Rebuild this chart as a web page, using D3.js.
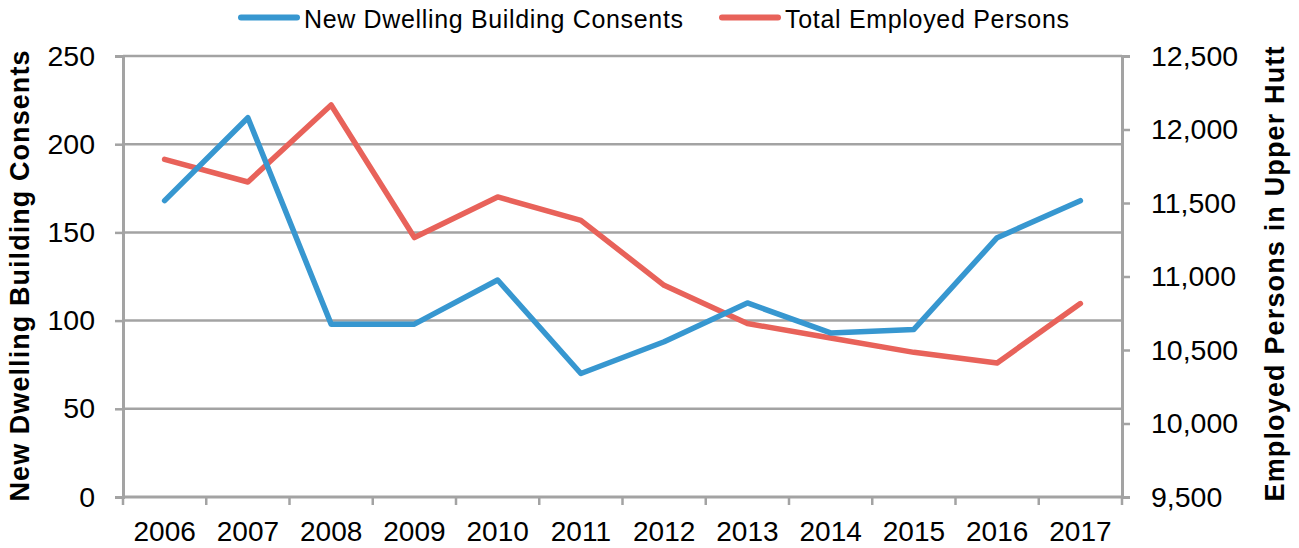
<!DOCTYPE html>
<html>
<head>
<meta charset="utf-8">
<script src="https://cdn.jsdelivr.net/npm/d3@7"></script>
<style>
  body { margin: 0; background: #fff; }
  svg { display: block; font-family: "Liberation Sans", Arial, sans-serif; }
</style>
</head>
<body>
<svg id="chart" width="1299" height="548"></svg>
<script>
const years = ["2006","2007","2008","2009","2010","2011","2012","2013","2014","2015","2016","2017"];
const consents = [168, 215, 98, 98, 123, 70, 88, 110, 93, 95, 147, 168];
const employed = [11797, 11643, 12167, 11265, 11541, 11382, 10940, 10680, 10582, 10484, 10412, 10816];
const leftTicks = [0, 50, 100, 150, 200, 250];
const rightTicks = [9500, 10000, 10500, 11000, 11500, 12000, 12500];
const seriesNames = ["New Dwelling Building Consents", "Total Employed Persons"];
const leftTitle = "New Dwelling Building Consents";
const rightTitle = "Employed Persons in Upper Hutt";

const colors = ["#3797D0", "#E8625A"];
const grid = "#A3A3A3";
const tickFont = 28.5;
const FF = "Liberation Sans, Arial, sans-serif";

const svg = d3.select("#chart");
const m = { left: 123, right: 1122, top: 56, bottom: 497 };

const x = d3.scaleBand().domain(years).range([m.left, m.right]).padding(0);
const yL = d3.scaleLinear().domain([0, 250]).range([m.bottom, m.top]);
const yR = d3.scaleLinear().domain([9500, 12500]).range([m.bottom, m.top]);

// gridlines
svg.append("g").selectAll("line").data(leftTicks.filter(d => d > 0)).join("line")
  .attr("x1", m.left).attr("x2", m.right)
  .attr("y1", d => yL(d)).attr("y2", d => yL(d))
  .attr("stroke", grid).attr("stroke-width", 2.5);

// left axis
const gL = svg.append("g").attr("transform", `translate(${m.left},0)`)
  .call(d3.axisLeft(yL).tickValues(leftTicks).tickSize(8).tickPadding(20).tickFormat(d3.format("d")));
gL.select(".domain").attr("stroke", grid).attr("stroke-width", 3);
gL.selectAll(".tick line").attr("stroke", grid).attr("stroke-width", 2.5);
gL.selectAll(".tick text").attr("font-size", tickFont).attr("fill", "#000").attr("font-family", FF);

// right axis
const gR = svg.append("g").attr("transform", `translate(${m.right},0)`)
  .call(d3.axisRight(yR).tickValues(rightTicks).tickSize(8).tickPadding(21).tickFormat(d3.format(",")));
gR.select(".domain").attr("stroke", grid).attr("stroke-width", 3);
gR.selectAll(".tick line").attr("stroke", grid).attr("stroke-width", 2.5);
gR.selectAll(".tick text").attr("font-size", tickFont).attr("fill", "#000").attr("font-family", FF);

// bottom axis line
svg.append("line").attr("x1", m.left).attr("x2", m.right)
  .attr("y1", m.bottom).attr("y2", m.bottom)
  .attr("stroke", grid).attr("stroke-width", 3);
// category boundary ticks
const bounds = years.map(d => x(d)).concat([x(years[years.length - 1]) + x.bandwidth()]);
svg.append("g").selectAll("line").data(bounds).join("line")
  .attr("x1", d => d).attr("x2", d => d)
  .attr("y1", m.bottom).attr("y2", m.bottom + 8)
  .attr("stroke", grid).attr("stroke-width", 2.5);
// category labels
const gB = svg.append("g").attr("transform", `translate(0,${m.bottom})`)
  .call(d3.axisBottom(x).tickSize(0).tickPadding(24));
gB.select(".domain").remove();
gB.selectAll(".tick text").attr("font-size", 28).attr("fill", "#000").attr("font-family", FF);

// lines
const cx = d => x(d) + x.bandwidth() / 2;
const lineL = d3.line().x((d, i) => cx(years[i])).y(d => yL(d));
const lineR = d3.line().x((d, i) => cx(years[i])).y(d => yR(d));
svg.append("path").datum(employed).attr("d", lineR)
  .attr("fill", "none").attr("stroke", colors[1]).attr("stroke-width", 5.5)
  .attr("stroke-linejoin", "round").attr("stroke-linecap", "round");
svg.append("path").datum(consents).attr("d", lineL)
  .attr("fill", "none").attr("stroke", colors[0]).attr("stroke-width", 5.5)
  .attr("stroke-linejoin", "round").attr("stroke-linecap", "round");

// axis titles
svg.append("text").attr("transform", `translate(29,276) rotate(-90)`)
  .attr("text-anchor", "middle").attr("font-size", 27).attr("font-weight", "bold")
  .attr("textLength", 451).attr("lengthAdjust", "spacing")
  .text(leftTitle);
svg.append("text").attr("transform", `translate(1284,274) rotate(-90)`)
  .attr("text-anchor", "middle").attr("font-size", 27).attr("font-weight", "bold")
  .attr("textLength", 455).attr("lengthAdjust", "spacing")
  .text(rightTitle);

// legend
const legendX = [238, 719];
const legendLen = [379, 284];
const lg = svg.append("g");
seriesNames.forEach((name, i) => {
  lg.append("line").attr("x1", legendX[i] + 3).attr("x2", legendX[i] + 59)
    .attr("y1", 17.5).attr("y2", 17.5)
    .attr("stroke", colors[i]).attr("stroke-width", 6).attr("stroke-linecap", "round");
  lg.append("text").attr("x", legendX[i] + 66).attr("y", 27.5)
    .attr("font-size", 25).attr("fill", "#000")
    .attr("textLength", legendLen[i]).attr("lengthAdjust", "spacing")
    .text(name);
});
</script>
</body>
</html>
